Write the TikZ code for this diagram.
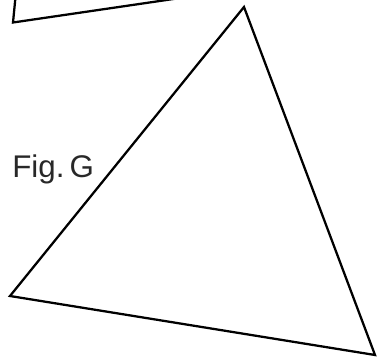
\documentclass[tikz,border=0pt]{standalone}
\usepackage{fontspec}
\setmainfont{Liberation Sans}
\usetikzlibrary{positioning}
\definecolor{figtext}{RGB}{40,40,40}
\tikzset{
  edge/.style={draw=black, line width=1.7pt, line join=miter},
  figlabel/.style={font=\fontsize{23.5}{26}\selectfont, text=figtext, inner sep=0pt, anchor=west}
}
\begin{document}
\begin{tikzpicture}[x=0.75pt,y=-0.75pt]
  \useasboundingbox (0,0) rectangle (379,360);
  % corners
  \coordinate (A) at (244,7);
  \coordinate (B) at (10,296);
  \coordinate (C) at (375,355);
  \coordinate (P) at (15.5,-3);
  \coordinate (Q) at (13,22.5);
  \coordinate (R) at (187,-3);
  % cut-off shape at the top
  \begin{scope}
    \clip (0,0) rectangle (379,360);
    \draw[edge] (P) -- (Q) -- (R);
  \end{scope}
  % triangle
  \draw[edge] (A) -- (B) -- (C) -- cycle;
  \node[figlabel] (lbl) at (12,169) {Fig.\,G};
\end{tikzpicture}
\end{document}
